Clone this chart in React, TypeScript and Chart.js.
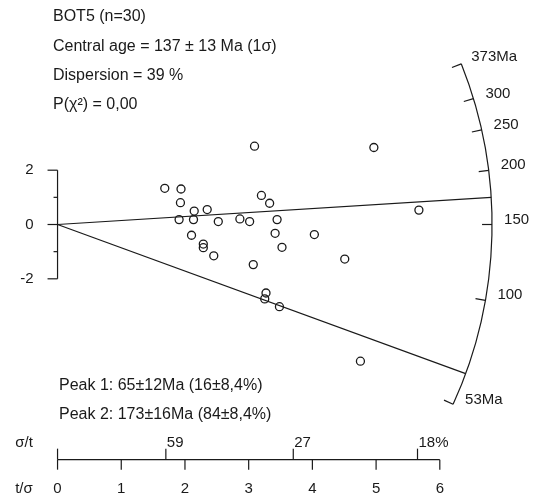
import React, { useEffect, useRef } from "react";
import { Chart, registerables } from "chart.js";

Chart.register(...registerables);

// ---- data ----
const HEADER_LINES = [
  "BOT5 (n=30)",
  "Central age = 137 \u00b1 13 Ma (1\u03c3)",
  "Dispersion = 39 %",
  "P(\u03c7\u00b2) = 0,00",
];
const PEAK_AGES = [65, 173];
const PEAK_LABELS = ["Peak 1: 65\u00b112Ma (16\u00b18,4%)", "Peak 2: 173\u00b116Ma (84\u00b18,4%)"];
const Z0 = 150; // reference age of the horizontal line (Ma)
const AGE_MIN = 53;
const AGE_MAX = 373;
const AGE_TICKS = [100, 150, 200, 250, 300];
const T_SIGMA_TICKS = [0, 1, 2, 3, 4, 5, 6];
const SIGMA_T_TICKS = [1.7, 3.7, 5.65];
const SIGMA_T_LABELS = ["59", "27", "18%"];
const Y_TICKS = [-2, -1, 0, 1, 2];
const Y_LABELS = ["-2", "", "0", "", "2"];

// precision (t/sigma) and standardised estimate of each grain
const X_VALUES = [
  1.683, 1.938, 1.929, 2.145, 2.349, 1.908, 2.134, 2.523, 2.862, 3.015,
  2.103, 2.288, 2.288, 2.452, 3.092, 3.2, 3.329, 3.446, 3.415, 4.031,
  3.523, 3.072, 3.272, 3.252, 3.483, 4.754, 4.965, 5.672, 4.508,
];
const Y_VALUES = [
  1.333, 1.308, 0.804, 0.494, 0.551, 0.18, 0.18, 0.108, 0.205, 0.108,
  -0.396, -0.721, -0.854, -1.153, 2.883, 1.07, 0.782, 0.18, -0.324, -0.371,
  -0.84, -1.477, -2.523, -2.739, -3.027, -5.034, 2.836, 0.53, -1.272,
];

// ---- layout / style ----
const ARC_R = 6.82; // arc radius in t/sigma units
const SLOPE_K = 1.025; // plot aspect factor for the age rays
const AXIS_Y = -8.66; // y value where bottom axis is drawn
const FAMILY = "'Liberation Sans', Arial, Helvetica, sans-serif";
const FONT_BIG = "16px " + FAMILY;
const FONT_AX = "15px " + FAMILY;
const INK = "#1a1a1a";

const radialPlugin = {
  id: "radial",
  beforeDatasetsDraw(chart: any) {
    const ctx = chart.ctx;
    const xs = chart.scales.x;
    const ys = chart.scales.y;
    const ox = xs.getPixelForValue(0);
    const oy = ys.getPixelForValue(0);
    const kx = xs.getPixelForValue(1) - ox;
    const ky = oy - ys.getPixelForValue(1);
    const R = xs.getPixelForValue(ARC_R) - ox;
    const ang = (t: number) => Math.atan2(-ky * SLOPE_K * Math.log(t / Z0), kx);
    const pt = (t: number, r: number) => {
      const a = ang(t);
      return [ox + r * Math.cos(a), oy + r * Math.sin(a)];
    };

    ctx.save();
    ctx.strokeStyle = INK;
    ctx.fillStyle = INK;
    ctx.lineWidth = 1.2;
    ctx.font = FONT_AX;

    // arc
    ctx.beginPath();
    ctx.arc(ox, oy, R, ang(AGE_MAX), ang(AGE_MIN), false);
    ctx.stroke();

    // arc ticks
    const allTicks = [AGE_MIN, ...AGE_TICKS, AGE_MAX];
    allTicks.forEach((t) => {
      const [x1, y1] = pt(t, R);
      const [x2, y2] = pt(t, R - 10);
      ctx.beginPath();
      ctx.moveTo(x1, y1);
      ctx.lineTo(x2, y2);
      ctx.stroke();
    });
    ctx.textAlign = "left";
    ctx.textBaseline = "middle";
    AGE_TICKS.forEach((t) => {
      const [x1, y1] = pt(t, R);
      ctx.fillText(String(t), x1 + 12, y1 - 5);
    });
    {
      const [x1, y1] = pt(AGE_MAX, R);
      ctx.fillText(AGE_MAX + "Ma", x1 + 10, y1 - 7);
      const [x2, y2] = pt(AGE_MIN, R);
      ctx.fillText(AGE_MIN + "Ma", x2 + 12, y2 - 4);
    }

    // peak lines
    PEAK_AGES.forEach((t) => {
      const [x1, y1] = pt(t, R);
      ctx.beginPath();
      ctx.moveTo(ox, oy);
      ctx.lineTo(x1, y1);
      ctx.stroke();
    });

    // y axis
    const yTop = ys.getPixelForValue(Y_TICKS[Y_TICKS.length - 1]);
    const yBot = ys.getPixelForValue(Y_TICKS[0]);
    ctx.beginPath();
    ctx.moveTo(ox, yTop);
    ctx.lineTo(ox, yBot);
    ctx.stroke();
    ctx.textAlign = "right";
    Y_TICKS.forEach((v, i) => {
      const py = ys.getPixelForValue(v);
      const len = Y_LABELS[i] ? 10 : 4;
      ctx.beginPath();
      ctx.moveTo(ox, py);
      ctx.lineTo(ox - len, py);
      ctx.stroke();
      if (Y_LABELS[i]) ctx.fillText(Y_LABELS[i], ox - 24, py);
    });

    // bottom axis
    const ay = ys.getPixelForValue(AXIS_Y);
    const x0 = xs.getPixelForValue(T_SIGMA_TICKS[0]);
    const x6 = xs.getPixelForValue(T_SIGMA_TICKS[T_SIGMA_TICKS.length - 1]);
    ctx.beginPath();
    ctx.moveTo(x0, ay);
    ctx.lineTo(x6, ay);
    ctx.stroke();
    ctx.textAlign = "center";
    T_SIGMA_TICKS.forEach((v) => {
      const px = xs.getPixelForValue(v);
      ctx.beginPath();
      ctx.moveTo(px, ay);
      ctx.lineTo(px, ay + 10);
      ctx.stroke();
      ctx.fillText(String(v), px, ay + 29);
    });
    // zero tick extends up
    ctx.beginPath();
    ctx.moveTo(x0, ay);
    ctx.lineTo(x0, ay - 11);
    ctx.stroke();
    ctx.textAlign = "left";
    SIGMA_T_TICKS.forEach((v, i) => {
      const px = xs.getPixelForValue(v);
      ctx.beginPath();
      ctx.moveTo(px, ay);
      ctx.lineTo(px, ay - 11);
      ctx.stroke();
      ctx.fillText(SIGMA_T_LABELS[i], px + 1, ay - 17);
    });
    ctx.textAlign = "center";
    ctx.fillText("\u03c3/t", 24, ay - 17);
    ctx.fillText("t/\u03c3", 24, ay + 29);

    // header text
    ctx.font = FONT_BIG;
    ctx.textAlign = "left";
    HEADER_LINES.forEach((s, i) => {
      ctx.fillText(s, 53, 17 + i * 29.3);
    });
    PEAK_LABELS.forEach((s, i) => {
      ctx.fillText(s, 59, 386 + i * 28.7);
    });
    ctx.restore();
  },
};

export default function App() {
  const ref = useRef<HTMLCanvasElement>(null);
  useEffect(() => {
    if (!ref.current) return;
    const chart = new Chart(ref.current, {
      type: "scatter",
      data: {
        datasets: [
          {
            data: X_VALUES.map((x, i) => ({ x, y: Y_VALUES[i] })),
            pointStyle: "circle",
            pointRadius: 4,
            pointBorderWidth: 1.3,
            pointBorderColor: INK,
            pointBackgroundColor: "rgba(0,0,0,0)",
            showLine: false,
          },
        ],
      },
      options: {
        animation: false,
        responsive: false,
        devicePixelRatio: 1,
        layout: { padding: 0 },
        plugins: { legend: { display: false }, tooltip: { enabled: false } },
        scales: {
          x: { type: "linear", display: false, min: -0.82, max: 7.411 },
          y: { type: "linear", display: false, min: -9.766, max: 8.072 },
        },
      },
      plugins: [radialPlugin],
    });
    return () => chart.destroy();
  }, []);
  return (
    <div style={{ position: "absolute", left: 0, top: 0, width: 535, height: 495, background: "#fff" }}>
      <canvas ref={ref} width={535} height={495} style={{ display: "block" }} />
    </div>
  );
}
